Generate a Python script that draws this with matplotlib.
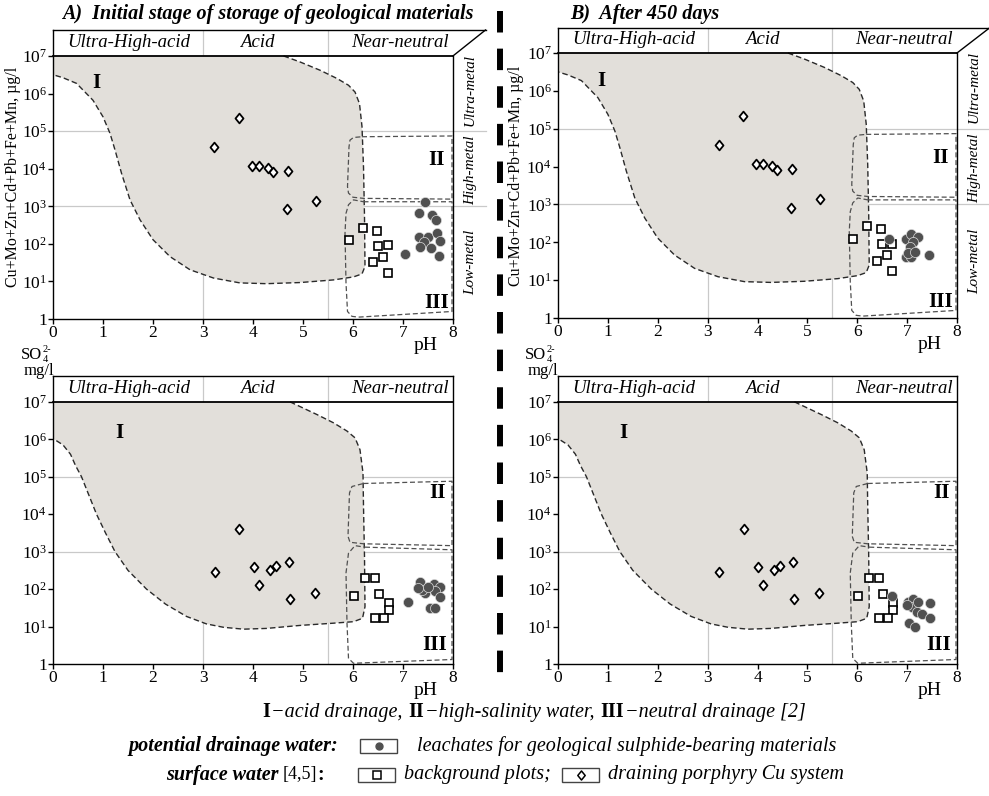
import numpy as np
import matplotlib
matplotlib.use("Agg")
import matplotlib.pyplot as plt
from matplotlib.lines import Line2D
from matplotlib.patches import Rectangle
from matplotlib.path import Path
from matplotlib.ticker import NullLocator

plt.rcParams['font.family'] = ['Liberation Serif', 'DejaVu Serif']
plt.rcParams['mathtext.fontset'] = 'custom'
plt.rcParams['mathtext.rm'] = 'Liberation Serif'
plt.rcParams['mathtext.it'] = 'Liberation Serif:italic'
plt.rcParams['mathtext.bf'] = 'Liberation Serif:bold'

# ---------------- data ----------------
ph_ticks = [0, 1, 2, 3, 4, 5, 6, 7, 8]
y_exps = [0, 1, 2, 3, 4, 5, 6, 7]
zone_labels = ["Ultra-High-acid", "Acid", "Near-neutral"]
zone_centers = [1.52, 4.09, 6.94]
metal_labels = ["Ultra-metal", "High-metal", "Low-metal"]
metal_centers = [6.1, 3.95, 1.5]

# field boundaries (pH, log10 value) - top (metals) panels
I_top_x = [0, 4.61, 4.94, 5.34, 5.68, 5.91, 6.04, 6.13, 6.18, 6.21, 6.23, 6.24, 6.18, 6.01, 5.61, 4.94, 4.27,
           3.74, 3.21, 2.74, 2.34, 2.00, 1.74, 1.54, 1.37, 1.24, 1.14, 1.00, 0.80, 0.47, 0.20, 0]
I_top_log = [7.0, 7.0, 6.84, 6.62, 6.40, 6.22, 6.04, 5.73, 5.12, 4.05, 2.73, 1.40, 1.20, 1.12, 1.04, 0.97, 0.94,
             0.96, 1.09, 1.31, 1.66, 2.11, 2.64, 3.17, 3.88, 4.50, 4.94, 5.38, 5.82, 6.27, 6.42, 6.50]
II_top_x = [6.18, 7.98, 7.98, 6.21, 6.00, 5.91, 5.89, 5.92, 5.94, 6.01, 6.18]
II_top_log = [4.85, 4.87, 3.19, 3.21, 3.24, 3.35, 3.52, 4.58, 4.76, 4.83, 4.85]
III_top_x = [6.21, 7.98, 7.98, 6.11, 5.98, 5.89, 5.86, 5.84, 5.86, 5.91, 6.01, 6.21]
III_top_log = [3.12, 3.12, 0.20, 0.05, 0.07, 0.20, 0.96, 2.28, 2.81, 3.04, 3.17, 3.12]

# field boundaries - bottom (sulphate) panels
I_bot_x = [0, 4.74, 5.28, 5.61, 5.88, 6.04, 6.14, 6.20, 6.21, 6.23, 6.24, 6.19, 6.01, 5.61, 4.94, 4.27, 3.81,
           3.41, 3.07, 2.67, 2.25, 1.87, 1.50, 1.24, 1.05, 0.87, 0.72, 0.57, 0.45, 0.35, 0.20, 0]
I_bot_log = [7.0, 7.0, 6.66, 6.44, 6.22, 6.04, 5.72, 5.10, 4.21, 2.87, 1.53, 1.22, 1.13, 1.09, 1.03, 0.95, 0.93,
             0.98, 1.07, 1.27, 1.60, 2.00, 2.50, 3.00, 3.50, 4.00, 4.50, 5.00, 5.30, 5.60, 5.85, 6.02]
II_bot_x = [6.21, 7.98, 7.98, 6.21, 5.94, 5.90, 5.93, 5.98, 6.21]
II_bot_log = [4.82, 4.88, 3.16, 3.21, 3.25, 3.41, 4.57, 4.74, 4.82]
III_bot_x = [6.24, 7.98, 7.98, 6.01, 5.91, 5.88, 5.86, 5.91, 6.04, 6.24]
III_bot_log = [3.12, 3.05, 0.12, 0.02, 0.15, 1.09, 2.43, 2.96, 3.16, 3.12]

# metals, ug/l  (draining porphyry Cu system = diamonds, background = squares)
dia_ph_top = [3.22, 3.71, 3.97, 4.12, 4.29, 4.40, 4.69, 4.68, 5.25]
dia_metal = [38000, 220000, 12000, 12000, 10500, 8000, 8500, 820, 1350]
sq_ph_top = [5.92, 6.19, 6.47, 6.50, 6.70, 6.40, 6.60, 6.70]
sq_metal = [123, 263, 219, 89, 91, 32, 45, 17]
# leachates A (initial) and B (after 450 days)
lea_ph_A_top = [7.44, 7.31, 7.57, 7.66, 7.32, 7.49, 7.67, 7.74, 7.41, 7.34, 7.55, 7.71, 7.03]
lea_metal_A = [1260, 650, 590, 430, 155, 155, 200, 120, 115, 83, 76, 48, 54]
lea_ph_B_top = [6.64, 6.97, 7.07, 7.22, 7.12, 7.05, 6.97, 7.08, 7.02, 7.44, 7.15]
lea_metal_B = [120, 120, 166, 141, 100, 76, 42, 40, 52, 45, 56]

# sulphate, mg/l
dia_ph_bot = [3.23, 3.72, 4.02, 4.12, 4.33, 4.46, 4.72, 4.73, 5.23]
dia_so4 = [280, 4100, 390, 132, 330, 420, 520, 53, 80]
sq_ph_bot = [6.01, 6.23, 6.44, 6.52, 6.71, 6.72, 6.43, 6.62]
sq_so4 = [67, 195, 200, 73, 42, 27, 17, 17]
lea_ph_A_bot = [7.09, 7.33, 7.61, 7.74, 7.44, 7.37, 7.64, 7.74, 7.53, 7.64, 7.29, 7.50]
lea_so4_A = [46, 158, 138, 117, 78, 95, 91, 60, 31, 31, 105, 112]
lea_ph_B_bot = [6.69, 7.02, 7.12, 7.45, 7.09, 7.19, 7.29, 7.45, 7.04, 7.15, 6.99, 7.22]
lea_so4_B = [66, 46, 54, 42, 34, 25, 22, 17, 12.6, 10, 38, 44]

# ---------------- style ----------------
W, H = 989, 796
FILL = '#e2dfda'
GRID = '#c9c9c9'
CIRC = '#505050'
DIAM = Path([(0, 1), (0.82, 0), (0, -1), (-0.82, 0), (0, 1)],
            [Path.MOVETO, Path.LINETO, Path.LINETO, Path.LINETO, Path.CLOSEPOLY])

fig = plt.figure(figsize=(W / 100, H / 100), dpi=100)


def px_axes(l, r, top, bottom):
    return fig.add_axes([l / W, 1 - bottom / H, (r - l) / W, (bottom - top) / H])


def panel(ax, ytop_exp, top_panel, I_x, I_log, II_x, II_log, III_x, III_log,
          dx, dy, sx, sy, cx, cy, num_pos):
    ytop = 10 ** ytop_exp
    ax.set_yscale('log')
    ax.set_xlim(0, 8)
    ax.set_ylim(1, ytop)
    ax.set_facecolor('none')
    # grid
    for gx in (3, 5.5):
        ax.plot([gx, gx], [1, ytop], color=GRID, lw=0.9, zorder=0.5)
    gx_end = 8.65 if top_panel else 8
    for gy in (1e5, 1e3):
        ax.plot([0, gx_end], [gy, gy], color=GRID, lw=0.9, zorder=0.5, clip_on=False)
    # field I
    Iy = [10 ** v for v in I_log]
    ax.fill(I_x, Iy, facecolor=FILL, edgecolor='none', zorder=1)
    ax.plot(I_x[1:], Iy[1:], color='#2a2a2a', lw=1.0, ls=(0, (4, 2.2)), zorder=2)
    # fields II, III
    ax.plot(II_x, [10 ** v for v in II_log], color='#505050', lw=0.9, ls=(0, (4, 2.2)), zorder=2)
    ax.plot(III_x, [10 ** v for v in III_log], color='#505050', lw=0.9, ls=(0, (4, 2.2)), zorder=2)
    # header line
    ax.plot([0, 8], [1e7, 1e7], color='black', lw=1.3, zorder=3, clip_on=False)
    for lab, xc in zip(zone_labels, zone_centers):
        ax.text(xc, 10 ** 7.35, lab, ha='center', va='center', fontsize=13.5, style='italic', zorder=5)
    if top_panel:
        ax.spines['top'].set_visible(False)
        ax.spines['right'].set_bounds(1, 1e7)
        ax.plot([0, 8.65], [ytop, ytop], color='black', lw=1.0, clip_on=False, zorder=3)
        ax.plot([8, 8.65], [1e7, ytop], color='black', lw=1.0, clip_on=False, zorder=3)
        for lab, yc in zip(metal_labels, metal_centers):
            ax.text(8.35, 10 ** yc, lab, rotation=90, ha='center', va='center', fontsize=11,
                    style='italic', clip_on=False)
    for sp in ax.spines.values():
        sp.set_linewidth(1.0)
    # numerals
    for lab, (nx, ny) in zip(['I', 'II', 'III'], num_pos):
        ax.text(nx, 10 ** ny, lab, ha='center', va='center', fontsize=15, fontweight='bold', zorder=5)
    # points
    ax.plot(dx, dy, ls='none', marker=DIAM, ms=7.0, mfc='white', mec='black', mew=1.3, zorder=6)
    ax.plot(sx, sy, ls='none', marker='s', ms=6.2, mfc='white', mec='black', mew=1.2, zorder=6)
    ax.plot(cx, cy, ls='none', marker='o', ms=7.3, mfc=CIRC, mec='#dcdcdc', mew=0.5, zorder=7)
    # ticks
    ax.set_xticks(ph_ticks)
    ax.set_xticklabels([str(t) for t in ph_ticks])
    ax.set_yticks([10 ** e for e in y_exps])
    ax.set_yticklabels(['1'] + [r'$10^{%d}$' % e for e in y_exps[1:]])
    ax.yaxis.set_minor_locator(NullLocator())
    ax.tick_params(direction='out', length=3.5, width=1, labelsize=12.5, pad=1)
    ax.annotate('pH', xy=(7.45, 0), xycoords=('data', 'axes fraction'), xytext=(0, -19),
                textcoords='offset points', ha='center', va='center', fontsize=14)


num_top = [(0.87, 6.27), (7.67, 4.23), (7.68, 0.42)]
num_bot = [(1.32, 6.18), (7.68, 4.57), (7.64, 0.51)]

axTL = px_axes(53, 453, 30, 319)
panel(axTL, 7.69, True, I_top_x, I_top_log, II_top_x, II_top_log, III_top_x, III_top_log,
      dia_ph_top, dia_metal, sq_ph_top, sq_metal, lea_ph_A_top, lea_metal_A, num_top)
axTR = px_axes(558, 957, 28, 318)
panel(axTR, 7.66, True, I_top_x, I_top_log, II_top_x, II_top_log, III_top_x, III_top_log,
      dia_ph_top, dia_metal, sq_ph_top, sq_metal, lea_ph_B_top, lea_metal_B, num_top)
axBL = px_axes(53, 453, 376, 664)
panel(axBL, 7.69, False, I_bot_x, I_bot_log, II_bot_x, II_bot_log, III_bot_x, III_bot_log,
      dia_ph_bot, dia_so4, sq_ph_bot, sq_so4, lea_ph_A_bot, lea_so4_A, num_bot)
axBR = px_axes(558, 957, 376, 664)
panel(axBR, 7.69, False, I_bot_x, I_bot_log, II_bot_x, II_bot_log, III_bot_x, III_bot_log,
      dia_ph_bot, dia_so4, sq_ph_bot, sq_so4, lea_ph_B_bot, lea_so4_B, num_bot)


def ftext(x, y, s, **kw):
    return fig.text(x / W, 1 - y / H, s, **kw)


# y-axis labels
ylab = 'Cu+Mo+Zn+Cd+Pb+Fe+Mn, µg/l'
ftext(13, 177, ylab, rotation=90, ha='center', va='center', fontsize=11.5)
ftext(516, 176, ylab, rotation=90, ha='center', va='center', fontsize=11.5)
for xr in (53, 557):
    # SO4 2- built from pieces: SO + stacked 4 / 2-
    ftext(xr - 11, 355, 'SO', ha='right', va='center', fontsize=12)
    ftext(xr - 10, 360, '4', ha='left', va='center', fontsize=7.5)
    ftext(xr - 10, 350, '2-', ha='left', va='center', fontsize=7.5)
    ftext(xr + 1, 371, 'mg/l', ha='right', va='center', fontsize=12)

# titles
ftext(62, 14, 'A)  Initial stage of storage of geological materials', ha='left', va='center',
      fontsize=14.5, fontweight='bold', style='italic')
ftext(570, 14, 'B)  After 450 days', ha='left', va='center',
      fontsize=14.5, fontweight='bold', style='italic')

# separator
fig.add_artist(Line2D([500 / W, 500 / W], [1 - 11 / H, 1 - 680 / H], color='black', lw=4.3,
                      ls=(0, (3.6, 2.7)), transform=fig.transFigure))

# ---------------- legend ----------------
renderer = fig.canvas.get_renderer()


def seq(x, y, pieces, gap=0):
    for s, kw in pieces:
        if s == ' ':
            x += kw.get('w', 4)
            continue
        t = ftext(x, y, s, ha='left', va='center', **kw)
        bb = t.get_window_extent(renderer)
        x += bb.width + gap
    return x


IT = dict(style='italic', fontsize=14.5)
BD = dict(fontweight='bold', fontsize=14.5)
seq(262, 712, [('I', BD), ('−acid drainage,', IT), (' ', {'w': 5}), ('II', BD),
               ('−high-salinity water,', IT), (' ', {'w': 5}), ('III', BD), ('−neutral drainage [2]', IT)],
    gap=1)


def legbox(x, y, kind):
    w, h = 37, 14
    fig.add_artist(Rectangle((x / W, 1 - (y + h / 2) / H), w / W, h / H, transform=fig.transFigure,
                             facecolor='white', edgecolor='#444444', lw=1.0))
    cxp, cyp = (x + w / 2) / W, 1 - y / H
    if kind == 'o':
        fig.add_artist(Line2D([cxp], [cyp], marker='o', ms=5, mfc=CIRC, mec=CIRC, transform=fig.transFigure))
    elif kind == 's':
        fig.add_artist(Line2D([cxp], [cyp], marker='s', ms=5.5, mfc='white', mec='black', mew=1.1,
                              transform=fig.transFigure))
    else:
        fig.add_artist(Line2D([cxp], [cyp], marker=DIAM, ms=6.5, mfc='white', mec='black', mew=1.1,
                              transform=fig.transFigure))


BI = dict(fontweight='bold', style='italic', fontsize=14.5)
ftext(338, 746, 'potential drainage water:', ha='right', va='center', **BI)
legbox(360, 746, 'o')
ftext(417, 746, 'leachates for geological sulphide-bearing materials', ha='left', va='center', **IT)

seq(166, 775, [('surface water', BI), (' ', {'w': 4}), ('[4,5]', dict(fontsize=13)),
               (':', dict(fontweight='bold', fontsize=14.5))])
legbox(358, 775, 's')
ftext(404, 775, 'background plots;', ha='left', va='center', **IT)
legbox(562, 775, 'd')
ftext(608, 775, 'draining porphyry Cu system', ha='left', va='center', **IT)

fig.savefig('out.png', dpi=100)
